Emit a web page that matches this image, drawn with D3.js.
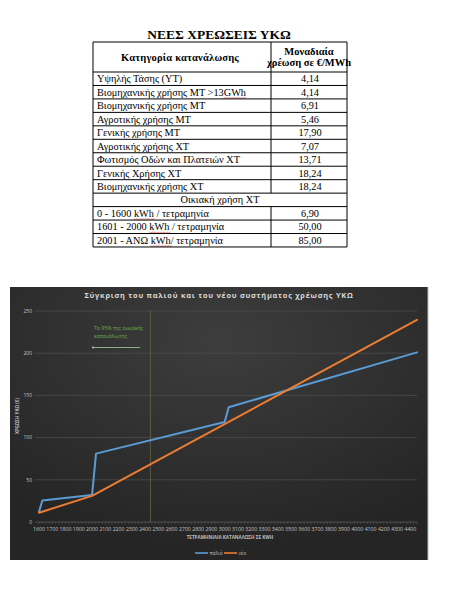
<!DOCTYPE html>
<html>
<head>
<meta charset="utf-8">
<script src="https://cdn.jsdelivr.net/npm/d3@7"></script>
<style>
  body { margin: 0; background: #fff; }
  svg { display: block; }
</style>
</head>
<body>
<svg id="page" width="471" height="593"></svg>
<script>
// table data
const tableTitle = "ΝΕΕΣ ΧΡΕΩΣΕΙΣ ΥΚΩ"
const categories = ["Υψηλής Τάσης  (ΥΤ)", "Βιομηχανικής χρήσης ΜΤ >13GWh", "Βιομηχανικής χρήσης ΜΤ",
  "Αγροτικής χρήσης ΜΤ", "Γενικής χρήσης ΜΤ", "Αγροτικής χρήσης ΧΤ",
  "Φωτισμός Οδών και Πλατειών ΧΤ", "Γενικής Χρήσης ΧΤ", "Βιομηχανικής χρήσης ΧΤ"]
const charges = ["4,14", "4,14", "6,91", "5,46", "17,90", "7,07", "13,71", "18,24", "18,24"]
const householdTitle = "Οικιακή χρήση ΧΤ"
const householdBands = ["0 - 1600 kWh / τετραμηνία", "1601 - 2000 kWh / τετραμηνία", "2001 - ΑΝΩ kWh/ τετραμηνία"]
const householdCharges = ["6,90", "50,00", "85,00"]
const misspelled = ["GWh", "kWh"]

// chart data (kWh per four months -> charge in €)
const oldKwh = [1600, 1625, 2000, 2030, 3000, 3030, 4450]
const oldCharge = [12, 25.5, 32, 81, 118.5, 136, 201]
const newKwh = [1600, 2000, 4450]
const newCharge = [11, 31, 239.5]
const xTicks = d3.range(1600, 4401, 100)
const yTicks = [0, 50, 100, 150, 200, 250]
const markerKwh = 2440
const seriesNames = ["παλιό", "νέο"]
const seriesColors = ["#5b9bd5", "#ed7d31"]

const svg = d3.select("#page")

// ---------- table ----------
const serif = "'Liberation Serif', 'Times New Roman', serif"
const tb = {left: 93, right: 347, mid: 271, top: 42, headBottom: 72, rowH: 13.46}

svg.append("text")
  .attr("x", 219).attr("y", 39)
  .attr("text-anchor", "middle")
  .style("font-family", serif).style("font-weight", "bold").style("font-size", "13.5px")
  .text(tableTitle)

const table = svg.append("g")
const rows = categories.map((c, i) => ({label: c, value: charges[i], type: "row"}))
  .concat([{label: householdTitle, type: "sub"}])
  .concat(householdBands.map((b, i) => ({label: b, value: householdCharges[i], type: "row"})))
const bottom = tb.headBottom + rows.length * tb.rowH

// header
table.append("text")
  .attr("x", 180).attr("y", 61)
  .attr("text-anchor", "middle")
  .style("font-family", serif).style("font-weight", "bold").style("font-size", "10.5px")
  .style("letter-spacing", "0.2px")
  .text("Κατηγορία κατανάλωσης")
table.append("text")
  .attr("x", 309).attr("y", 55)
  .attr("text-anchor", "middle")
  .style("font-family", serif).style("font-weight", "bold").style("font-size", "10.5px")
  .text("Μοναδιαία")
table.append("text")
  .attr("x", 309).attr("y", 66)
  .attr("text-anchor", "middle")
  .style("font-family", serif).style("font-weight", "bold").style("font-size", "10.5px")
  .text("χρέωση  σε €/MWh")

const rowG = table.selectAll("g.row")
  .data(rows)
  .enter()
  .append("g")
  .attr("transform", (d, i) => `translate(0,${tb.headBottom + i * tb.rowH})`)

const labels = rowG.append("text")
  .attr("x", d => d.type == "sub" ? (tb.left + tb.right) / 2 : 97)
  .attr("y", 10.3)
  .attr("text-anchor", d => d.type == "sub" ? "middle" : "start")
  .style("font-family", serif).style("font-size", "10.3px")
  .text(d => d.label)
rowG.filter(d => d.type == "row")
  .append("text")
  .attr("x", 310).attr("y", 10.3)
  .attr("text-anchor", "middle")
  .style("font-family", serif).style("font-size", "10.3px")
  .text(d => d.value)

// red spell-check squiggles under the unit words
labels.each(function(d) {
  const node = this
  misspelled.forEach(function(word) {
    const at = d.label.indexOf(word)
    if (at < 0) return
    const x0 = node.getStartPositionOfChar(at).x
    const w = node.getSubStringLength(at, word.length)
    const pts = d3.range(0, Math.ceil(w / 1.5) + 1).map(k => [x0 + k * 1.5, 12.3 + (k % 2 ? 0.8 : -0.2)])
    d3.select(node.parentNode).append("path")
      .attr("d", d3.line()(pts))
      .attr("fill", "none")
      .attr("stroke", "#e02020")
      .attr("stroke-width", 0.6)
  })
})

// grid lines of the table
const hLines = [tb.top, tb.headBottom].concat(rows.map((d, i) => tb.headBottom + (i + 1) * tb.rowH))
table.selectAll("line.h")
  .data(hLines)
  .enter()
  .append("line")
  .attr("x1", tb.left).attr("x2", tb.right)
  .attr("y1", d => d).attr("y2", d => d)
  .attr("stroke", "#000").attr("stroke-width", 1)
table.append("line")
  .attr("x1", tb.left).attr("x2", tb.left).attr("y1", tb.top).attr("y2", bottom)
  .attr("stroke", "#000")
table.append("line")
  .attr("x1", tb.right).attr("x2", tb.right).attr("y1", tb.top).attr("y2", bottom)
  .attr("stroke", "#000")
// divider, broken at the household sub header
const subIdx = categories.length
table.append("line")
  .attr("x1", tb.mid).attr("x2", tb.mid).attr("y1", tb.top).attr("y2", tb.headBottom + subIdx * tb.rowH)
  .attr("stroke", "#000")
table.append("line")
  .attr("x1", tb.mid).attr("x2", tb.mid).attr("y1", tb.headBottom + (subIdx + 1) * tb.rowH).attr("y2", bottom)
  .attr("stroke", "#000")

// ---------- chart ----------
const panel = {x: 10, y: 287, w: 418, h: 273}
const defs = svg.append("defs")
const grad = defs.append("radialGradient")
  .attr("id", "bg").attr("cx", "50%").attr("cy", "20%").attr("r", "75%")
grad.append("stop").attr("offset", "0%").attr("stop-color", "#3d3d3d")
grad.append("stop").attr("offset", "100%").attr("stop-color", "#252525")

svg.append("rect")
  .attr("x", panel.x).attr("y", panel.y)
  .attr("width", panel.w).attr("height", panel.h)
  .attr("fill", "url(#bg)")
svg.append("line")
  .attr("x1", panel.x + panel.w).attr("x2", panel.x + panel.w)
  .attr("y1", panel.y).attr("y2", panel.y + panel.h)
  .attr("stroke", "#bdbdbd").attr("stroke-width", 1)

const x = d3.scaleLinear().domain([1600, 4450]).range([39, 417])
const y = d3.scaleLinear().domain([0, 250]).range([522, 311])

// gridlines
svg.append("g")
  .selectAll("line")
  .data(yTicks.slice(1))
  .enter()
  .append("line")
  .attr("x1", 35).attr("x2", 417)
  .attr("y1", d => y(d)).attr("y2", d => y(d))
  .attr("stroke", "#4c4c4c").attr("stroke-width", 0.8)

// x axis line with small ticks
svg.append("line")
  .attr("x1", 35).attr("x2", 417).attr("y1", y(0)).attr("y2", y(0))
  .attr("stroke", "#595959").attr("stroke-width", 0.8)
svg.append("g")
  .selectAll("line")
  .data(d3.range(1600, 4451, 25))
  .enter()
  .append("line")
  .attr("x1", d => x(d)).attr("x2", d => x(d))
  .attr("y1", y(0)).attr("y2", y(0) + 2)
  .attr("stroke", "#595959").attr("stroke-width", 0.6)

// y labels
svg.append("g")
  .selectAll("text")
  .data(yTicks)
  .enter()
  .append("text")
  .attr("x", 32).attr("y", d => y(d) + 1.8)
  .attr("text-anchor", "end")
  .style("font-family", "'Open Sans', sans-serif").style("font-size", "5px")
  .attr("fill", "#c4c4c4")
  .text(d => d)

// x labels
svg.append("g")
  .selectAll("text")
  .data(xTicks)
  .enter()
  .append("text")
  .attr("x", d => x(d)).attr("y", 530.5)
  .attr("text-anchor", "middle")
  .style("font-family", "'Open Sans', sans-serif").style("font-size", "5.2px")
  .attr("fill", "#c4c4c4")
  .text(d => d)

// title
svg.append("text")
  .attr("x", 219).attr("y", 298)
  .attr("text-anchor", "middle")
  .style("font-family", "'Open Sans', sans-serif").style("font-weight", "bold")
  .style("font-size", "7.4px").style("letter-spacing", "0.75px")
  .attr("fill", "#d9d9d9")
  .text("Σύγκριση του παλιού και του νέου συστήματος χρέωσης ΥΚΩ")

// axis titles
svg.append("text")
  .attr("transform", "translate(19,416) rotate(-90)")
  .attr("text-anchor", "middle")
  .style("font-family", "'Open Sans', sans-serif").style("font-weight", "bold").style("font-size", "4.6px")
  .attr("fill", "#bfbfbf")
  .text("ΧΡΕΩΣΗ ΥΚΩ (€)")
svg.append("text")
  .attr("x", 230).attr("y", 538.5)
  .attr("text-anchor", "middle")
  .style("font-family", "'Open Sans', sans-serif").style("font-weight", "bold").style("font-size", "4.6px")
  .attr("fill", "#bfbfbf")
  .text("ΤΕΤΡΑΜΗΝΙΑΙΑ ΚΑΤΑΝΑΛΩΣΗ ΣΕ KWH")

// 95% marker
svg.append("line")
  .attr("x1", x(markerKwh)).attr("x2", x(markerKwh))
  .attr("y1", y(250)).attr("y2", y(0))
  .attr("stroke", "#66664a").attr("stroke-width", 0.8)
svg.append("text")
  .attr("x", 94).attr("y", 330)
  .style("font-family", "'Open Sans', sans-serif").style("font-size", "5.2px")
  .attr("fill", "#70ad47")
  .selectAll("tspan")
  .data(["Το 95% της οικιακής", "κατανάλωσης"])
  .enter()
  .append("tspan")
  .attr("x", 94)
  .attr("dy", (d, i) => i == 0 ? 0 : 7.5)
  .text(d => d)
svg.append("line")
  .attr("x1", 140).attr("x2", 93).attr("y1", 347.5).attr("y2", 347.5)
  .attr("stroke", "#a9c99a").attr("stroke-width", 0.8)
svg.append("circle")
  .attr("cx", 93).attr("cy", 347.5).attr("r", 1.1)
  .attr("fill", "#a9c99a")

// lines
const line = d3.line()
  .x(d => x(d[0]))
  .y(d => y(d[1]))
const series = [
  d3.zip(oldKwh, oldCharge),
  d3.zip(newKwh, newCharge)
]
svg.append("g")
  .selectAll("path")
  .data(series)
  .enter()
  .append("path")
  .attr("d", line)
  .attr("fill", "none")
  .attr("stroke", (d, i) => seriesColors[i])
  .attr("stroke-width", 2)
  .attr("stroke-linejoin", "round")
  .attr("stroke-linecap", "round")

// legend
const legend = svg.append("g")
  .selectAll("g")
  .data(seriesNames)
  .enter()
  .append("g")
  .attr("transform", (d, i) => `translate(${195 + i * 29},553)`)
legend.append("line")
  .attr("x1", 0).attr("x2", 13).attr("y1", 0).attr("y2", 0)
  .attr("stroke", (d, i) => seriesColors[i]).attr("stroke-width", 1.6)
legend.append("text")
  .attr("x", 14.5).attr("y", 1.7)
  .style("font-family", "'Open Sans', sans-serif").style("font-size", "4.8px")
  .attr("fill", "#bfbfbf")
  .text(d => d)
</script>
</body>
</html>
